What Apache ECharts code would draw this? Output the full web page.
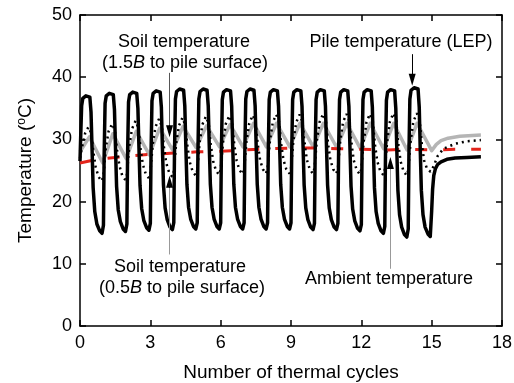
<!DOCTYPE html>
<html>
<head>
<meta charset="utf-8">
<script src="https://cdn.jsdelivr.net/npm/echarts@6/dist/echarts.min.js"></script>
<style>
  html, body { margin: 0; padding: 0; background: #fff; }
  #chart { width: 514px; height: 383px; }
</style>
</head>
<body>
<div id="chart"></div>
<script>
// axis ticks
const xTicks = [0, 3, 6, 9, 12, 15, 18];
const yTicks = [0, 10, 20, 30, 40, 50];

// pile temperature (LEP), [cycle, degC]
const pileTemp = [
  [0.00,26.5],[0.03,30.5],[0.07,35.4],[0.12,36.6],[0.25,37.0],[0.42,36.8],[0.47,34.4],[0.51,29.0],[0.56,22.3],[0.63,18.4],[0.72,16.4],[0.84,15.3],[0.94,14.9],
  [1.00,16.2],[1.03,27.5],[1.07,35.8],[1.12,37.0],[1.25,37.4],[1.42,37.2],[1.47,34.8],[1.51,29.2],[1.56,22.5],[1.63,18.7],[1.72,16.8],[1.84,15.6],[1.94,15.2],
  [2.00,16.4],[2.03,27.6],[2.07,36.0],[2.12,37.2],[2.25,37.6],[2.42,37.4],[2.47,35.0],[2.51,29.3],[2.56,22.6],[2.63,18.9],[2.72,17.0],[2.84,15.8],[2.94,15.4],
  [3.00,16.5],[3.03,27.7],[3.07,36.2],[3.12,37.4],[3.25,37.8],[3.42,37.6],[3.47,35.2],[3.51,29.4],[3.56,22.7],[3.63,19.0],[3.72,17.1],[3.84,15.9],[3.94,15.5],
  [4.00,16.6],[4.03,27.8],[4.07,36.5],[4.12,37.7],[4.25,38.1],[4.42,37.9],[4.47,35.4],[4.51,29.5],[4.56,22.8],[4.63,19.1],[4.72,17.2],[4.84,16.0],[4.94,15.6],
  [5.00,16.6],[5.03,27.8],[5.07,36.5],[5.12,37.7],[5.25,38.1],[5.42,37.9],[5.47,35.4],[5.51,29.5],[5.56,22.8],[5.63,19.1],[5.72,17.2],[5.84,16.0],[5.94,15.6],
  [6.00,16.6],[6.03,27.8],[6.07,36.4],[6.12,37.6],[6.25,38.0],[6.42,37.8],[6.47,35.3],[6.51,29.5],[6.56,22.8],[6.63,19.1],[6.72,17.2],[6.84,16.0],[6.94,15.6],
  [7.00,16.6],[7.03,27.8],[7.07,36.5],[7.12,37.7],[7.25,38.1],[7.42,37.9],[7.47,35.4],[7.51,29.5],[7.56,22.8],[7.63,19.1],[7.72,17.2],[7.84,16.0],[7.94,15.6],
  [8.00,16.6],[8.03,27.8],[8.07,36.4],[8.12,37.6],[8.25,38.0],[8.42,37.8],[8.47,35.3],[8.51,29.5],[8.56,22.8],[8.63,19.1],[8.72,17.2],[8.84,16.0],[8.94,15.6],
  [9.00,16.6],[9.03,27.8],[9.07,36.4],[9.12,37.6],[9.25,38.0],[9.42,37.8],[9.47,35.3],[9.51,29.5],[9.56,22.7],[9.63,19.0],[9.72,17.1],[9.84,15.9],[9.94,15.5],
  [10.00,16.5],[10.03,27.8],[10.07,36.4],[10.12,37.6],[10.25,38.0],[10.42,37.8],[10.47,35.3],[10.51,29.4],[10.56,22.7],[10.63,19.0],[10.72,17.1],[10.84,15.9],[10.94,15.5],
  [11.00,16.5],[11.03,27.8],[11.07,36.4],[11.12,37.6],[11.25,38.0],[11.42,37.8],[11.47,35.3],[11.51,29.3],[11.56,22.5],[11.63,18.8],[11.72,16.9],[11.84,15.7],[11.94,15.3],
  [12.00,16.3],[12.03,27.7],[12.07,36.4],[12.12,37.6],[12.25,38.0],[12.42,37.8],[12.47,35.2],[12.51,29.1],[12.56,22.2],[12.63,18.4],[12.72,16.5],[12.84,15.3],[12.94,14.9],
  [13.00,16.0],[13.03,27.5],[13.07,36.3],[13.12,37.6],[13.25,38.0],[13.42,37.8],[13.47,35.0],[13.51,28.8],[13.56,21.8],[13.63,17.9],[13.72,15.9],[13.84,14.7],[13.94,14.3],
  [14.00,15.6],[14.03,27.4],[14.07,36.5],[14.12,37.9],[14.25,38.3],[14.42,38.1],[14.47,35.2],[14.51,28.8],[14.56,21.8],[14.63,17.9],[14.72,15.9],[14.84,14.8],[14.94,14.4],
  [15.00,18.5],[15.04,22.0],[15.09,24.2],[15.16,25.3],[15.26,26.0],[15.40,26.4],[15.65,26.8],[16.00,27.0],[16.50,27.1],[17.10,27.2]
];

// soil temperature, 0.5B to pile surface (dotted)
const soilNear = [
  [0.00,27.0],[0.10,29.0],[0.22,31.0],[0.36,32.0],[0.48,31.0],[0.57,28.0],[0.67,25.5],[0.79,24.0],[0.92,23.3],
  [1.00,24.1],[1.10,28.6],[1.22,31.3],[1.37,32.5],[1.49,31.4],[1.58,28.3],[1.68,25.8],[1.80,24.2],[1.93,23.5],
  [2.00,24.3],[2.10,28.9],[2.22,31.7],[2.37,33.0],[2.49,31.8],[2.58,28.6],[2.68,26.0],[2.80,24.5],[2.93,23.8],
  [3.00,24.6],[3.10,29.1],[3.22,32.0],[3.37,33.3],[3.49,32.1],[3.58,28.8],[3.68,26.2],[3.80,24.7],[3.93,24.0],
  [4.00,24.8],[4.10,29.3],[4.22,32.2],[4.37,33.5],[4.49,32.3],[4.58,29.0],[4.68,26.4],[4.80,24.9],[4.93,24.2],
  [5.00,25.0],[5.10,29.4],[5.22,32.4],[5.37,33.7],[5.49,32.5],[5.58,29.1],[5.68,26.5],[5.80,25.0],[5.93,24.3],
  [6.00,25.1],[6.10,29.5],[6.22,32.5],[6.37,33.8],[6.49,32.6],[6.58,29.2],[6.68,26.6],[6.80,25.1],[6.93,24.4],
  [7.00,25.2],[7.10,29.6],[7.22,32.6],[7.37,33.9],[7.49,32.7],[7.58,29.3],[7.68,26.7],[7.80,25.2],[7.93,24.5],
  [8.00,25.3],[8.10,29.7],[8.22,32.7],[8.37,34.0],[8.49,32.8],[8.58,29.3],[8.68,26.7],[8.80,25.2],[8.93,24.5],
  [9.00,25.3],[9.10,29.7],[9.22,32.7],[9.37,34.0],[9.49,32.8],[9.58,29.3],[9.68,26.7],[9.80,25.2],[9.93,24.5],
  [10.00,25.3],[10.10,29.7],[10.22,32.8],[10.37,34.1],[10.49,32.9],[10.58,29.3],[10.68,26.7],[10.80,25.2],[10.93,24.5],
  [11.00,25.3],[11.10,29.7],[11.22,32.8],[11.37,34.1],[11.49,32.9],[11.58,29.3],[11.68,26.6],[11.80,25.1],[11.93,24.4],
  [12.00,25.2],[12.10,29.6],[12.22,32.8],[12.37,34.1],[12.49,32.9],[12.58,29.2],[12.68,26.5],[12.80,25.0],[12.93,24.3],
  [13.00,25.1],[13.10,29.6],[13.22,32.9],[13.37,34.2],[13.49,33.0],[13.58,29.1],[13.68,26.4],[13.80,24.9],[13.93,24.2],
  [14.00,25.0],[14.10,29.6],[14.22,32.9],[14.37,34.2],[14.49,33.0],[14.58,29.2],[14.68,26.6],[14.80,25.3],[14.95,24.8],
  [15.10,25.8],[15.25,27.3],[15.50,28.5],[16.00,29.3],[16.50,29.7],[17.10,29.9]
];

// soil temperature, 1.5B to pile surface (grey)
const soilFar = [
  [0.00,28.0],[0.40,30.4],[0.97,26.2],[1.40,30.9],[1.97,26.9],[2.40,31.3],[2.96,27.5],[3.40,31.8],[3.95,28.3],
  [4.40,32.1],[4.95,28.7],[5.40,32.2],[5.95,28.8],[6.40,32.4],[6.95,28.8],[7.40,32.6],[7.95,28.8],[8.38,32.6],
  [8.95,28.8],[9.38,32.6],[9.95,28.8],[10.38,32.6],[10.95,28.7],[11.38,32.6],[11.95,28.6],[12.38,32.6],[12.95,28.5],
  [13.38,32.6],[13.95,28.3],[14.38,32.6],[15.00,28.2],[15.20,29.2],[15.40,29.8],[15.70,30.2],[16.20,30.5],[17.10,30.7]
];

// ambient temperature (red dashed)
const ambient = [
  [0,26.2],[0.5,26.6],[1,26.9],[1.5,27.1],[2,27.3],[3,27.6],[4,27.8],[5,28.0],[6,28.1],[7,28.3],
  [8,28.5],[9,28.6],[10,28.6],[11,28.5],[12,28.4],[13,28.3],[14,28.4],[15,28.3],[16,28.4],[17.1,28.4]
];

const FONT = 'Arial, "Liberation Sans", sans-serif';

function axisBase(ticks, extra) {
  return Object.assign({
    type: 'value',
    min: ticks[0],
    max: ticks[ticks.length - 1],
    interval: ticks[1] - ticks[0],
    axisLine: {show: true, onZero: false, lineStyle: {color: '#000', width: 1.5}},
    axisTick: {show: true, inside: true, length: 6, lineStyle: {color: '#000', width: 1.5}},
    splitLine: {show: false},
    axisLabel: {color: '#000', fontSize: 18, fontFamily: FONT, margin: 8}
  }, extra);
}

function solid(color) {
  return {color: color, width: 1, type: 'solid'};
}

const leaders = [
  // 1.5B leader, line then arrow
  [{coord: [3.82, 40.7], symbol: 'none', lineStyle: solid('#555')}, {coord: [3.82, 32.3], symbol: 'none'}],
  [{coord: [3.82, 32.3], symbol: 'none', lineStyle: solid('#000')}, {coord: [3.82, 31.3], symbol: 'triangle'}],
  // 0.5B leader
  [{coord: [3.82, 11.5], symbol: 'none', lineStyle: solid('#999')}, {coord: [3.82, 22.2], symbol: 'none'}],
  [{coord: [3.82, 22.2], symbol: 'none', lineStyle: solid('#000')}, {coord: [3.82, 23.2], symbol: 'triangle'}],
  // pile leader
  [{coord: [14.17, 43.7], symbol: 'none', lineStyle: solid('#000')}, {coord: [14.17, 39.6], symbol: 'triangle'}],
  // ambient leader
  [{coord: [13.24, 9.2], symbol: 'none', lineStyle: solid('#999')}, {coord: [13.24, 25.2], symbol: 'none'}],
  [{coord: [13.24, 25.2], symbol: 'none', lineStyle: solid('#000')}, {coord: [13.24, 26.2], symbol: 'triangle'}]
];

function note(x, y, text) {
  return {
    type: 'text', x: x, y: y, z: 100,
    style: {
      text: text, fill: '#000', fontSize: 18, fontFamily: FONT,
      textAlign: 'center', textVerticalAlign: 'middle',
      rich: {i: {fontStyle: 'italic', fontSize: 18, fontFamily: FONT, fill: '#000'}}
    }
  };
}

const chart = echarts.init(document.getElementById('chart'));
chart.setOption({
  animation: false,
  backgroundColor: '#fff',
  grid: {left: 80, right: 12, top: 15, bottom: 57, containLabel: false, outerBoundsMode: 'none'},
  xAxis: [
    axisBase(xTicks, {
      position: 'bottom',
      name: 'Number of thermal cycles', nameLocation: 'middle', nameGap: 37,
      nameTextStyle: {color: '#000', fontSize: 19, fontFamily: FONT}
    }),
    axisBase(xTicks, {position: 'top', axisLabel: {show: false}})
  ],
  yAxis: [
    axisBase(yTicks, {
      position: 'left',
      name: 'Temperature ({sup|o}C)', nameLocation: 'middle', nameGap: 45,
      nameTextStyle: {
        color: '#000', fontSize: 19, fontFamily: FONT,
        rich: {sup: {fontSize: 12, fontFamily: FONT, color: '#000', verticalAlign: 'top'}}
      }
    }),
    axisBase(yTicks, {position: 'right', axisLabel: {show: false}})
  ],
  series: [
    {
      name: 'Soil 1.5B', type: 'line', data: soilFar, symbol: 'none',
      lineStyle: {color: '#b5b5b5', width: 3.5, join: 'round'}
    },
    {
      name: 'Ambient', type: 'line', data: ambient, symbol: 'none',
      lineStyle: {color: '#e3241b', width: 3, type: [12, 16]}
    },
    {
      name: 'Soil 0.5B', type: 'line', data: soilNear, symbol: 'none',
      lineStyle: {color: '#000', width: 2.5, type: [2, 4]}
    },
    {
      name: 'Pile', type: 'line', data: pileTemp, symbol: 'none',
      lineStyle: {color: '#000', width: 3.5, join: 'round'},
      markLine: {
        silent: true, animation: false,
        symbolSize: [7, 12],
        label: {show: false},
        lineStyle: {type: 'solid'},
        emphasis: {disabled: true},
        data: leaders
      }
    }
  ],
  graphic: [
    note(184, 42, 'Soil temperature'),
    note(185, 63, '(1.5{i|B} to pile surface)'),
    note(180, 267, 'Soil temperature'),
    note(182, 288, '(0.5{i|B} to pile surface)'),
    note(401, 42, 'Pile temperature (LEP)'),
    note(389, 279, 'Ambient temperature')
  ]
});
</script>
</body>
</html>
